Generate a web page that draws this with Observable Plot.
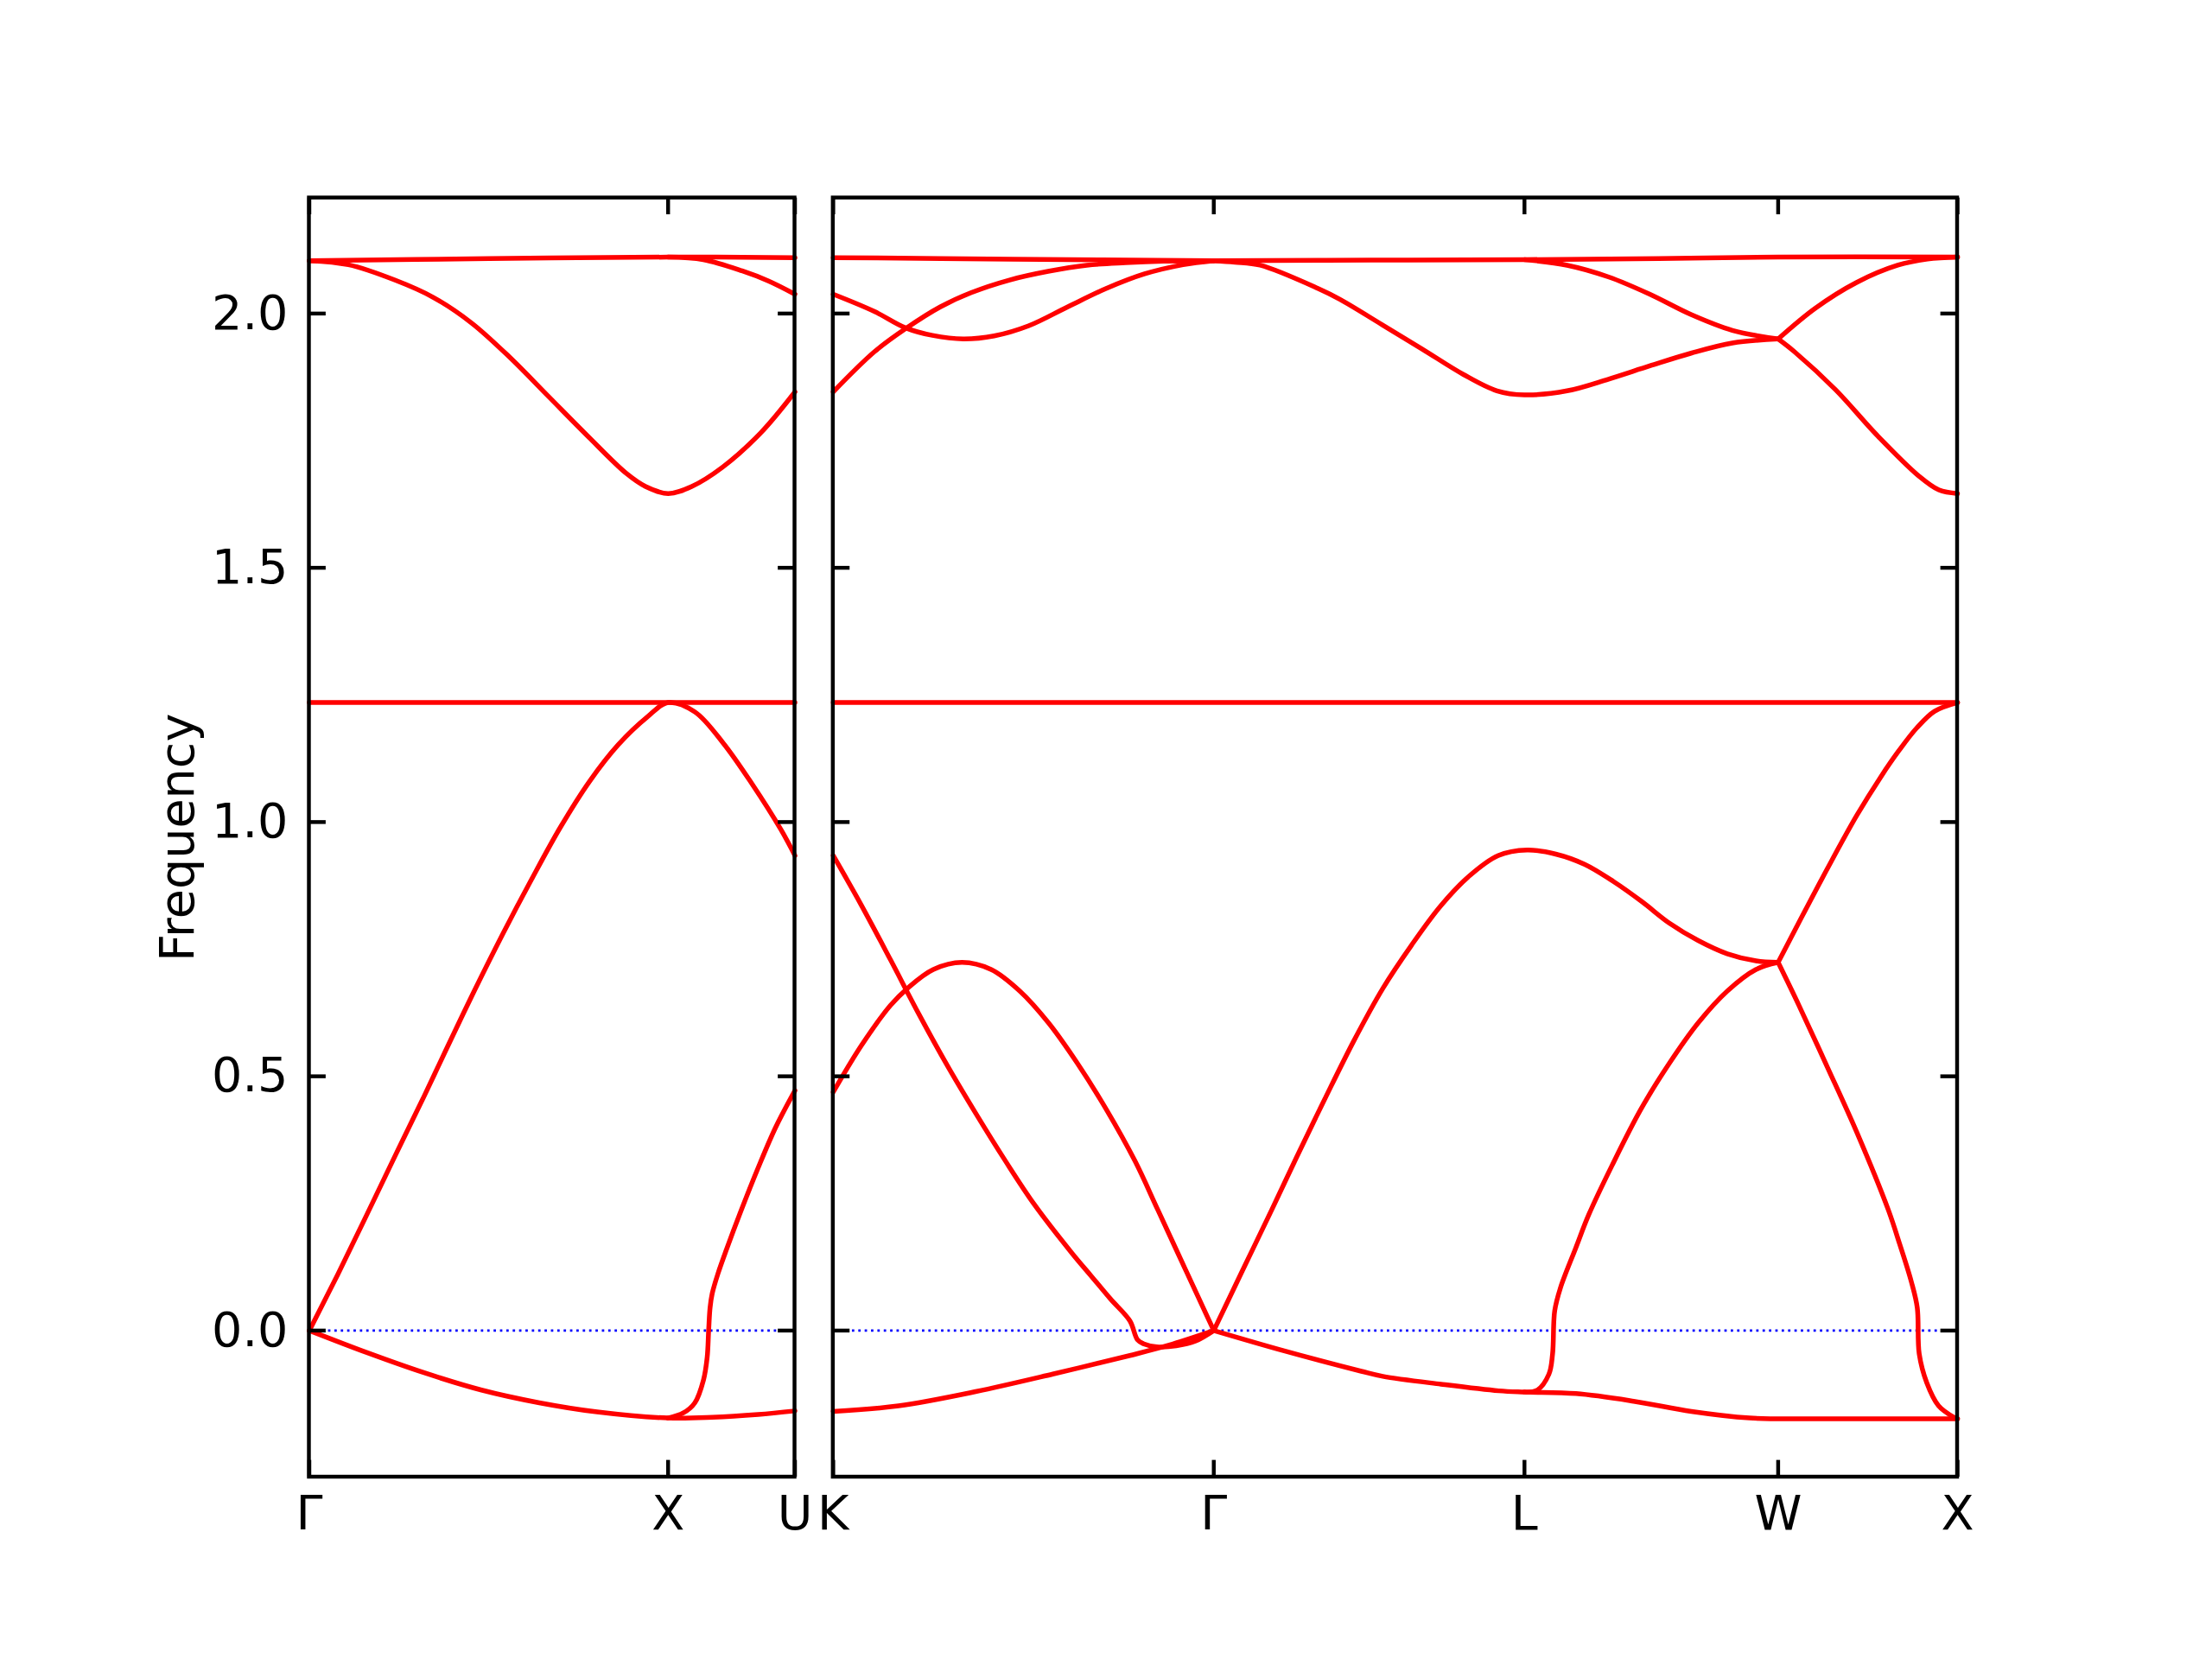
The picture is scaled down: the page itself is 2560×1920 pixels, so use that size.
<!DOCTYPE html>
<html>
<head>
<meta charset="utf-8">
<script src="https://cdn.jsdelivr.net/npm/d3@7"></script>
<script src="https://cdn.jsdelivr.net/npm/@observablehq/plot@0.6"></script>
<style>
  html, body { margin: 0; padding: 0; background: #fff; }
  #chart svg { display: block; }
</style>
</head>
<body>
<div id="chart"></div>
<script>
// ---- High-symmetry path (distance along the path, in each panel) ----
const leftTicks = [0, 1.0, 1.3536];
const leftLabels = ["Γ", "X", "U"];
const rightTicks = [0, 1.0607, 1.9267, 2.6338, 3.1338];
const rightLabels = ["K", "Γ", "L", "W", "X"];
const yTicks = [0, 0.5, 1.0, 1.5, 2.0];
const yDomain = [-0.2882, 2.2273];
const yLabel = "Frequency";

// ---- Left panel bands: Γ – X – U ----
const leftTop = [[0, 2.104], [0.5, 2.108], [1.0, 2.111], [1.3536, 2.110]];
const leftOptic = [[0, 2.104], [0.109, 2.096], [0.238, 2.066], [0.345, 2.032], [0.453, 1.981], [0.560, 1.913], [0.668, 1.836], [0.776, 1.759], [0.883, 1.686], [0.937, 1.660], [1.0, 1.646], [1.066, 1.660], [1.152, 1.698], [1.259, 1.766], [1.3536, 1.846]];
const leftUpperXU = [[1.0, 2.111], [1.098, 2.106], [1.206, 2.084], [1.28, 2.064], [1.3536, 2.038]];
const leftFlat = [[0, 1.235], [0.5, 1.235], [1.0, 1.235], [1.3536, 1.235]];
const leftLong = [[0, 0], [0.079, 0.110], [0.159, 0.226], [0.240, 0.345], [0.320, 0.461], [0.379, 0.549], [0.4595, 0.6675], [0.540, 0.781], [0.620, 0.888], [0.700, 0.990], [0.781, 1.080], [0.861, 1.152], [0.941, 1.206], [1.0, 1.235], [1.074, 1.217], [1.154, 1.155], [1.234, 1.075], [1.3146, 0.985], [1.3536, 0.934]];
const leftTrans = [[0, 0], [0.159, -0.043], [0.320, -0.083], [0.480, -0.117], [0.641, -0.142], [0.802, -0.160], [1.0, -0.172], [1.123, -0.1706], [1.251, -0.165], [1.3536, -0.158]];
const leftTransXU = [[1.0, -0.172], [1.0424, -0.162], [1.0746, -0.142], [1.0987, -0.097], [1.109, -0.052], [1.113, 0.0], [1.117, 0.045], [1.123, 0.073], [1.139, 0.112], [1.163, 0.160], [1.203, 0.235], [1.251, 0.320], [1.30, 0.400], [1.3536, 0.472]];

// ---- Right panel bands: K – Γ – L – W – X ----
const rightTop = [[0, 2.110], [0.5, 2.107], [1.0607, 2.104], [1.5, 2.105], [1.9267, 2.106], [2.3, 2.108], [2.6338, 2.111], [3.1338, 2.111]];
const rightKG1 = [[0, 2.038], [0.115, 2.004], [0.201, 1.972], [0.2765, 1.957], [0.3625, 1.950], [0.4485, 1.956], [0.545, 1.976], [0.653, 2.013], [0.760, 2.049], [0.868, 2.078], [0.975, 2.096], [1.0607, 2.104]];
const rightKG2 = [[0, 1.846], [0.115, 1.925], [0.201, 1.970], [0.298, 2.013], [0.384, 2.041], [0.4915, 2.066], [0.599, 2.083], [0.7065, 2.095], [0.814, 2.100], [0.9215, 2.103], [1.0607, 2.104]];
const rightGLW = [[1.0607, 2.104], [1.12, 2.101], [1.190, 2.095], [1.352, 2.049], [1.412, 2.028], [1.530, 1.978], [1.642, 1.930], [1.757, 1.880], [1.850, 1.848], [1.9267, 1.840], [2.0455, 1.848], [2.161, 1.871], [2.276, 1.897], [2.391, 1.922], [2.506, 1.942], [2.6338, 1.950]];
const rightLW = [[1.9267, 2.106], [2.0455, 2.095], [2.161, 2.072], [2.276, 2.038], [2.391, 1.998], [2.506, 1.967], [2.6338, 1.950]];
const rightWXup = [[2.6338, 1.950], [2.7365, 2.010], [2.852, 2.061], [2.967, 2.095], [3.05, 2.107], [3.1338, 2.111]];
const rightWXdown = [[2.6338, 1.950], [2.679, 1.925], [2.794, 1.850], [2.909, 1.761], [3.025, 1.681], [3.082, 1.653], [3.1338, 1.646]];
const rightFlat = [[0, 1.235], [1.0607, 1.235], [1.9267, 1.235], [2.6338, 1.235], [3.1338, 1.235]];
const rightKGdown = [[0, 0.934], [0.078, 0.837], [0.159, 0.730], [0.239, 0.622], [0.319, 0.520], [0.400, 0.424], [0.480, 0.3335], [0.560, 0.2485], [0.6657, 0.152], [0.7194, 0.107], [0.773, 0.062], [0.827, 0.019], [0.848, -0.018], [0.865, -0.026], [0.902, -0.032], [0.956, -0.030], [1.010, -0.0205], [1.0607, 0]];
const rightKGhump = [[0, 0.469], [0.078, 0.560], [0.159, 0.639], [0.207, 0.673], [0.279, 0.710], [0.359, 0.724], [0.440, 0.710], [0.520, 0.6675], [0.600, 0.605], [0.680, 0.526], [0.761, 0.435], [0.841, 0.3335], [0.905, 0.237], [0.983, 0.118], [1.0607, 0]];
const rightKGneg = [[0, -0.159], [0.182, -0.148], [0.397, -0.120], [0.612, -0.0856], [0.827, -0.049], [0.9345, -0.029], [1.0607, 0]];
const rightGLWlong = [[1.0607, 0], [1.14, 0.117], [1.222, 0.237], [1.291, 0.340], [1.372, 0.458], [1.452, 0.571], [1.532, 0.673], [1.612, 0.758], [1.693, 0.835], [1.773, 0.894], [1.853, 0.934], [1.934, 0.945], [2.014, 0.937], [2.094, 0.917], [2.175, 0.883], [2.255, 0.843], [2.331, 0.801], [2.411, 0.767], [2.492, 0.741], [2.572, 0.727], [2.6338, 0.724]];
const rightGLXneg = [[1.0607, 0], [1.257, -0.040], [1.472, -0.080], [1.532, -0.090], [1.694, -0.1055], [1.855, -0.1185], [1.9267, -0.121], [2.070, -0.124], [2.231, -0.139], [2.392, -0.159], [2.554, -0.172], [2.6338, -0.1735], [2.9, -0.1735], [3.1338, -0.1735]];
const rightLWrise = [[1.9267, -0.121], [1.9624, -0.117], [1.9947, -0.086], [2.005, -0.046], [2.011, 0.039], [2.027, 0.084], [2.070, 0.163], [2.106, 0.228], [2.171, 0.325], [2.251, 0.435], [2.331, 0.526], [2.411, 0.605], [2.492, 0.6675], [2.572, 0.710], [2.6338, 0.724]];
const rightWXrise = [[2.6338, 0.724], [2.692, 0.803], [2.773, 0.911], [2.853, 1.013], [2.921, 1.090], [2.97, 1.140], [3.02, 1.185], [3.07, 1.218], [3.1338, 1.235]];
const rightWXfall = [[2.6338, 0.724], [2.692, 0.639], [2.773, 0.515], [2.853, 0.390], [2.941, 0.237], [2.973, 0.169], [3.005, 0.096], [3.0215, 0.045], [3.027, -0.046], [3.048, -0.1026], [3.081, -0.148], [3.124, -0.1706], [3.1338, -0.1735]];

// ---- Layout of the two panels on one continuous x scale ----
const panelGap = 0.1067;
const leftEnd = leftTicks[leftTicks.length - 1];
const rightOffset = leftEnd + panelGap;
const rightEnd = rightOffset + rightTicks[rightTicks.length - 1];

const leftBands = {leftTop, leftOptic, leftUpperXU, leftFlat, leftLong, leftTrans, leftTransXU};
const rightBands = {rightTop, rightKG1, rightKG2, rightGLW, rightLW, rightWXup, rightWXdown, rightFlat,
  rightKGdown, rightKGhump, rightKGneg, rightGLWlong, rightGLXneg, rightLWrise, rightWXrise, rightWXfall};

const rows = [];
for (const [name, pts] of Object.entries(leftBands)) for (const [x, y] of pts) rows.push({band: name, x, y});
for (const [name, pts] of Object.entries(rightBands)) for (const [x, y] of pts) rows.push({band: name, x: x + rightOffset, y});

const panels = [{x1: 0, x2: leftEnd}, {x1: rightOffset, x2: rightEnd}];
const xLabelRows = [
  ...leftTicks.map((t, i) => ({x: t, label: leftLabels[i]})),
  ...rightTicks.map((t, i) => ({x: t + rightOffset, label: rightLabels[i]}))
];
const xTickPos = xLabelRows.map(d => d.x);

const FS = 55.6, LW = 4.44, TL = 19.4;
const font = "DejaVu Sans";

const marks = [
  // zero reference line (dotted blue) in each panel
  ...panels.map(p => Plot.ruleY([0], {x1: p.x1, x2: p.x2, stroke: "#0000ff", strokeWidth: 2.78, strokeDasharray: "2.78 4.59"})),
  // phonon bands
  Plot.line(rows, {x: "x", y: "y", z: "band", stroke: "#ff0000", strokeWidth: 5.5, curve: "catmull-rom", strokeLinejoin: "round"}),
  // panel frames
  Plot.rect(panels, {x1: "x1", x2: "x2", y1: yDomain[0], y2: yDomain[1], fill: "none", stroke: "black", strokeWidth: LW}),
  // inward y ticks on every panel edge
  ...panels.flatMap(p => [
    Plot.ruleY(yTicks, {x1: p.x1, x2: p.x1, insetRight: -TL, stroke: "black", strokeWidth: LW}),
    Plot.ruleY(yTicks, {x1: p.x2, x2: p.x2, insetLeft: -TL, stroke: "black", strokeWidth: LW})
  ]),
  // inward x ticks on top and bottom
  Plot.ruleX(xTickPos, {y1: yDomain[0], y2: yDomain[0], insetBottom: TL, stroke: "black", strokeWidth: LW}),
  Plot.ruleX(xTickPos, {y1: yDomain[1], y2: yDomain[1], insetTop: TL, stroke: "black", strokeWidth: LW}),
  // y tick labels
  Plot.text(yTicks, {y: d => d, frameAnchor: "left", textAnchor: "end", dx: -24.5, text: d => d.toFixed(1), fontSize: FS, fontFamily: font, fill: "black"}),
  // x tick labels
  Plot.text(xLabelRows, {x: "x", text: "label", frameAnchor: "bottom", lineAnchor: "top", dy: 21, fontSize: FS, fontFamily: font, fill: "black"}),
  // y axis title
  Plot.text([yLabel], {text: d => d, frameAnchor: "left", textAnchor: "middle", lineAnchor: "middle", dx: -152, rotate: -90, fontSize: FS, fontFamily: font, fill: "black"})
];

const chart = Plot.plot({
  width: 2560,
  height: 1920,
  marginLeft: 357.5,
  marginRight: 295,
  marginTop: 228.6,
  marginBottom: 211,
  style: {fontFamily: font, background: "white"},
  x: {domain: [0, rightEnd], axis: null},
  y: {domain: yDomain, axis: null},
  marks
});
document.getElementById("chart").appendChild(chart);
</script>
</body>
</html>
